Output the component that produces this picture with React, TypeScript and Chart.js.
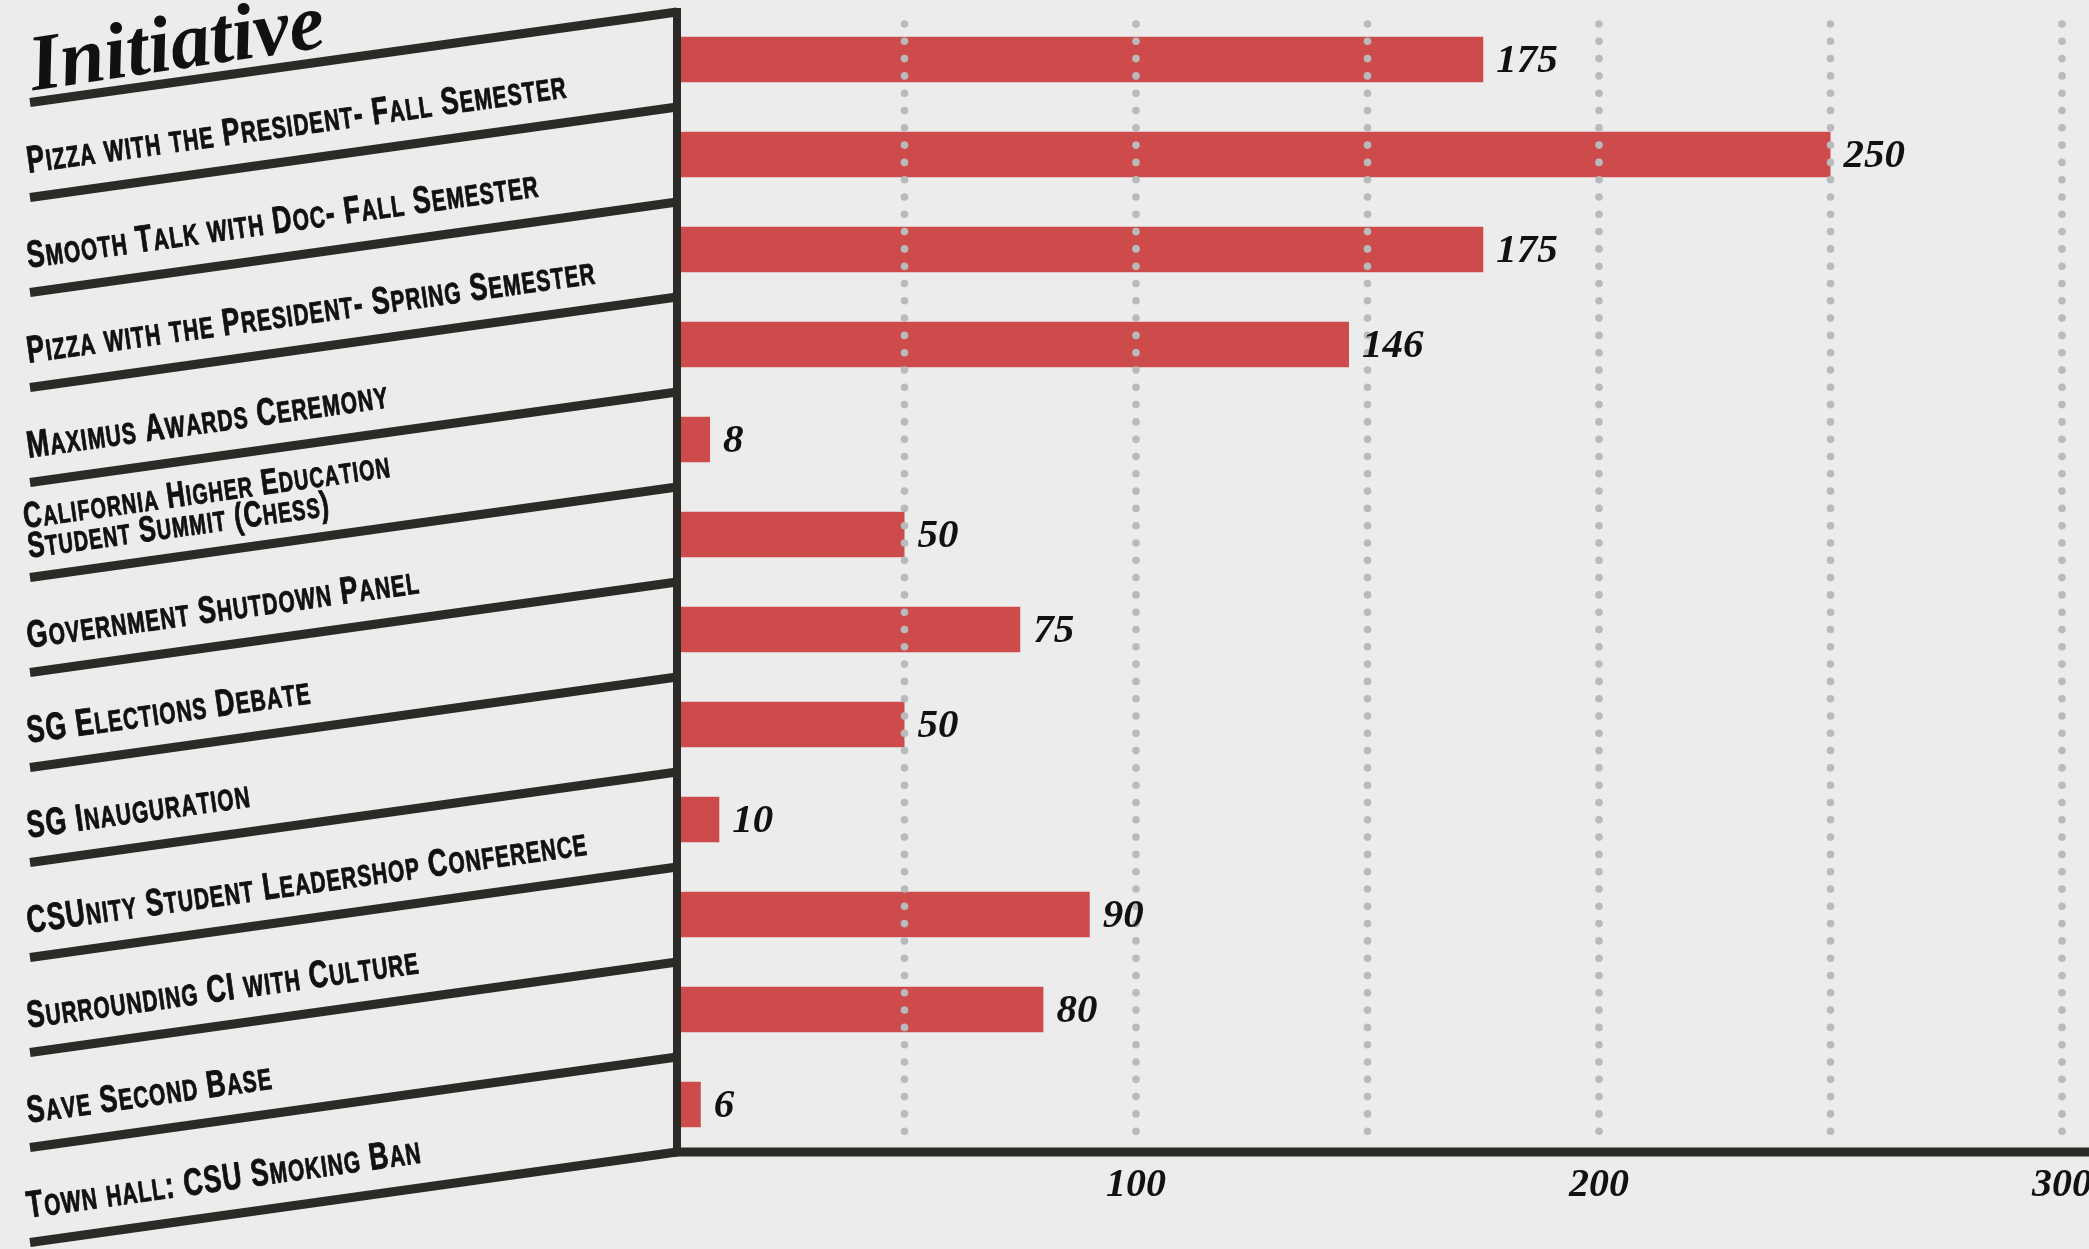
import React, { useEffect, useRef } from 'react';
import { Chart, registerables } from 'chart.js';

Chart.register(...registerables);

// ---- data ----
const categories: (string | string[])[] = [
  'Pizza with the President- Fall Semester',
  'Smooth Talk with Doc- Fall Semester',
  'Pizza with the President- Spring Semester',
  'Maximus Awards Ceremony',
  ['California Higher Education', 'Student Summit (Chess)'],
  'Government Shutdown Panel',
  'SG Elections Debate',
  'SG Inauguration',
  'CSUnity Student Leadershop Conference',
  'Surrounding CI with Culture',
  'Save Second Base',
  'Town hall: CSU Smoking Ban',
];
const values: number[] = [175, 250, 175, 146, 8, 50, 75, 50, 10, 90, 80, 6];
const xTickLabels: number[] = [100, 200, 300];
const axisTitle = 'Initiative';
const xMin = 0;
const xMax = 300;
const xStep = 50;

// ---- style ----
const W = 2140;
const H = 1249;
const BG = '#ececec';
const BAR = '#cd4b4b';
const INK = '#2b2a26';
const DOT = '#b8babc';
const SLOPE = 0.14;
const LABEL_FONT = "'Liberation Sans', Arial, sans-serif";
const SERIF = "'Liberation Serif', 'Times New Roman', serif";

function drawSmallCaps(ctx: CanvasRenderingContext2D, text: string, x: number, y: number, size: number, spacing: number) {
  let cx = x;
  for (const ch of text) {
    const lower = ch !== ch.toUpperCase();
    const s = lower ? size * 0.78 : size;
    ctx.font = `bold ${s}px ${LABEL_FONT}`;
    const c = ch.toUpperCase();
    ctx.fillText(c, cx, y);
    ctx.strokeText(c, cx, y);
    cx += ctx.measureText(c).width + spacing;
  }
  return cx - x;
}

const panelPlugin = {
  id: 'panelPlugin',
  beforeDraw(chart: any) {
    const ctx = chart.ctx;
    ctx.save();
    ctx.fillStyle = BG;
    ctx.fillRect(0, 0, chart.width, chart.height);
    ctx.restore();
  },
  afterDatasetsDraw(chart: any) {
    const { ctx, chartArea, scales } = chart;
    const x = scales.x;
    ctx.save();
    // dotted grid lines
    ctx.fillStyle = DOT;
    x.ticks.forEach((t: any) => {
      if (t.value <= xMin) return;
      const px = x.getPixelForValue(t.value);
      for (let yy = chartArea.top + 12; yy <= chartArea.bottom - 12; yy += 17.3) {
        ctx.beginPath();
        ctx.arc(px, yy, 3.8, 0, Math.PI * 2);
        ctx.fill();
      }
    });
    // value labels
    const meta = chart.getDatasetMeta(0);
    ctx.fillStyle = '#111';
    ctx.font = `italic bold 41px ${SERIF}`;
    ctx.textBaseline = 'middle';
    ctx.textAlign = 'left';
    meta.data.forEach((bar: any, i: number) => {
      ctx.fillText(String(values[i]), bar.x + 13, bar.y + 2);
    });
    ctx.restore();
  },
  afterDraw(chart: any) {
    const { ctx, chartArea, scales } = chart;
    const y = scales.y;
    const axisX = chartArea.left + 4;
    const leftX = 30;
    const dx = axisX - leftX;
    ctx.save();
    ctx.strokeStyle = INK;
    ctx.lineCap = 'butt';
    ctx.lineWidth = 9;
    for (let k = 0; k <= categories.length; k++) {
      const yr = y.getPixelForValue(k - 0.5);
      ctx.beginPath();
      ctx.moveTo(leftX, yr + SLOPE * dx);
      ctx.lineTo(axisX, yr);
      ctx.stroke();
    }
    // vertical axis
    ctx.lineWidth = 8;
    ctx.beginPath();
    ctx.moveTo(axisX, chartArea.top - 4);
    ctx.lineTo(axisX, chartArea.bottom + 4);
    ctx.stroke();
    // bottom axis
    ctx.lineWidth = 9;
    ctx.beginPath();
    ctx.moveTo(axisX - 4, chartArea.bottom);
    ctx.lineTo(chart.width, chartArea.bottom);
    ctx.stroke();

    // category labels
    const ang = Math.atan(SLOPE);
    ctx.fillStyle = '#111';
    ctx.strokeStyle = '#111';
    ctx.lineWidth = 0.9;
    ctx.lineJoin = 'round';
    ctx.textBaseline = 'alphabetic';
    ctx.textAlign = 'left';
    categories.forEach((cat, i) => {
      const yr = y.getPixelForValue(i + 0.5);
      const lines = Array.isArray(cat) ? cat : [cat];
      const multi = lines.length > 1;
      ctx.save();
      ctx.translate(leftX + 2, yr + SLOPE * dx);
      ctx.rotate(-ang);
      ctx.scale(0.7, 1);
      lines.forEach((ln, j) => {
        const base = multi ? -20 - (lines.length - 1 - j) * 30 : -25;
        drawSmallCaps(ctx, ln, 0, base, multi ? 36 : 38, 1.6);
      });
      ctx.restore();
    });

    // title
    ctx.save();
    ctx.translate(leftX + 3, y.getPixelForValue(-0.5) + SLOPE * dx - 12);
    ctx.rotate(-Math.atan(0.15));
    ctx.font = `italic bold 80px ${SERIF}`;
    ctx.fillStyle = '#111';
    ctx.fillText(axisTitle, 0, 0);
    ctx.restore();
    ctx.restore();
  },
};

export default function App() {
  const ref = useRef<HTMLCanvasElement | null>(null);
  useEffect(() => {
    if (!ref.current) return;
    const chart = new Chart(ref.current, {
      type: 'bar',
      data: {
        labels: categories as any,
        datasets: [
          {
            data: values,
            backgroundColor: BAR,
            borderWidth: 0,
            barPercentage: 0.48,
            categoryPercentage: 1,
          },
        ],
      },
      options: {
        indexAxis: 'y',
        responsive: false,
        animation: false,
        layout: { padding: { left: 673, right: W - 2062, top: 12, bottom: 0 } },
        plugins: {
          legend: { display: false },
          tooltip: { enabled: false },
          title: { display: false },
        },
        scales: {
          x: {
            min: xMin,
            max: xMax,
            grid: { display: false, drawTicks: false },
            border: { display: false },
            ticks: {
              stepSize: xStep,
              padding: 10,
              autoSkip: false,
              maxRotation: 0,
              color: '#111',
              font: { family: SERIF, size: 40, style: 'italic', weight: 'bold' },
              callback: (v: any) => (xTickLabels.includes(Number(v)) ? String(v) : ''),
            },
            afterFit: (s: any) => {
              s.height = 97;
            },
          },
          y: { display: false, grid: { display: false } },
        },
      } as any,
      plugins: [panelPlugin],
    });
    return () => chart.destroy();
  }, []);
  return (
    <div style={{ position: 'fixed', left: 0, top: 0, width: 2089, height: 1249, overflow: 'hidden', background: BG }}>
      <canvas ref={ref} width={W} height={H} style={{ width: W, height: H, display: 'block' }} />
    </div>
  );
}
